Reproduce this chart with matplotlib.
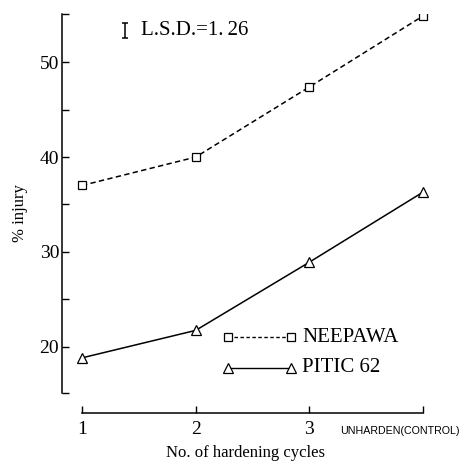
import matplotlib
matplotlib.use("Agg")
import matplotlib.pyplot as plt

cycles = [1, 2, 3, 4]
tick_labels = ["1", "2", "3"]
control_label = "UNHARDEN(CONTROL)"
neepawa = [37.0, 40.0, 47.4, 54.9]
pitic62 = [18.8, 21.7, 28.9, 36.3]
lsd = 1.26

plt.rcParams['font.family'] = ['Liberation Serif', 'DejaVu Serif']

fig = plt.figure(figsize=(4.71, 4.65), dpi=100)
ax = fig.add_axes([62/471, 1-413/465, (430-62)/471, (413-14)/465])
ax.set_xlim(1 - 20/113.7, 4 + 7/113.7)
ymin_axes = 20 - (413-347)/9.4
ytop = 50 + (62-14)/9.4
ybot = 20 - (393-347)/9.4
ax.set_ylim(ymin_axes, ytop)

ax.plot(cycles, neepawa, color='black', ls=(0, (3.5, 2.2)), lw=1.1,
        marker='s', ms=6, mfc='white', mec='black', mew=0.9)
ax.plot(cycles, pitic62, color='black', ls='-', lw=1.1,
        marker='^', ms=6.5, mfc='white', mec='black', mew=0.9)

for s in ['top', 'right']:
    ax.spines[s].set_visible(False)
ax.spines['left'].set_bounds(ybot, ytop)
ax.spines['bottom'].set_bounds(1, 4)
ax.spines['left'].set_linewidth(1.1)
ax.spines['bottom'].set_linewidth(1.1)

ax.set_yticks([20, 30, 40, 50])
ax.set_yticks([ybot, 25, 35, 45, ytop], minor=True)
ax.tick_params(axis='y', which='both', direction='in', length=5, width=1.0, labelsize=14, pad=2)
ax.set_xticks(cycles)
ax.set_xticklabels(tick_labels + [""])
ax.tick_params(axis='x', which='major', direction='in', length=5, width=1.0, labelsize=14, pad=6)

# control label: fit into the reference's width
ctl = fig.text(340/471, 1 - 431/465, control_label, ha='left', va='center',
               fontsize=8, family=['Liberation Sans'])
fig.canvas.draw()
w = ctl.get_window_extent().width
ctl.set_fontsize(8 * 119.0 / w)

ax.set_ylabel("% injury", fontsize=12, labelpad=8)
ax.set_xlabel("No. of hardening cycles", fontsize=12, labelpad=5)

# LSD bar
lsd_x = 1 + (125-82)/113.7
lsd_y = 50 + (62-30.5)/9.4
ax.errorbar([lsd_x], [lsd_y], yerr=[[0.8], [0.8]], color='black', capsize=2.5, lw=1.1, capthick=1.1)
ax.text(1 + (141-82)/113.7, lsd_y, "L.S.D.=1.\u200926", fontsize=15, va='center', ha='left')

# legend drawn manually
lx0 = 1 + (228-82)/113.7
lx1 = 1 + (291-82)/113.7
ly1 = 20 - (338-347)/9.4
ly2 = 20 - (368-347)/9.4
ax.plot([lx0, lx1], [ly1, ly1], color='black', ls=(0, (2.5, 1.8)), lw=1.0,
        marker='s', ms=6, mfc='white', mec='black', mew=0.9)
ax.plot([lx0, lx1], [ly2, ly2], color='black', ls='-', lw=1.0,
        marker='^', ms=6.5, mfc='white', mec='black', mew=0.9)
ax.text(1 + (302-82)/113.7, ly1, "NEEPAWA", fontsize=15, va='center', ha='left')
ax.text(1 + (302-82)/113.7, ly2, "PITIC 62", fontsize=15, va='center', ha='left')

fig.savefig("out.png", dpi=100)
